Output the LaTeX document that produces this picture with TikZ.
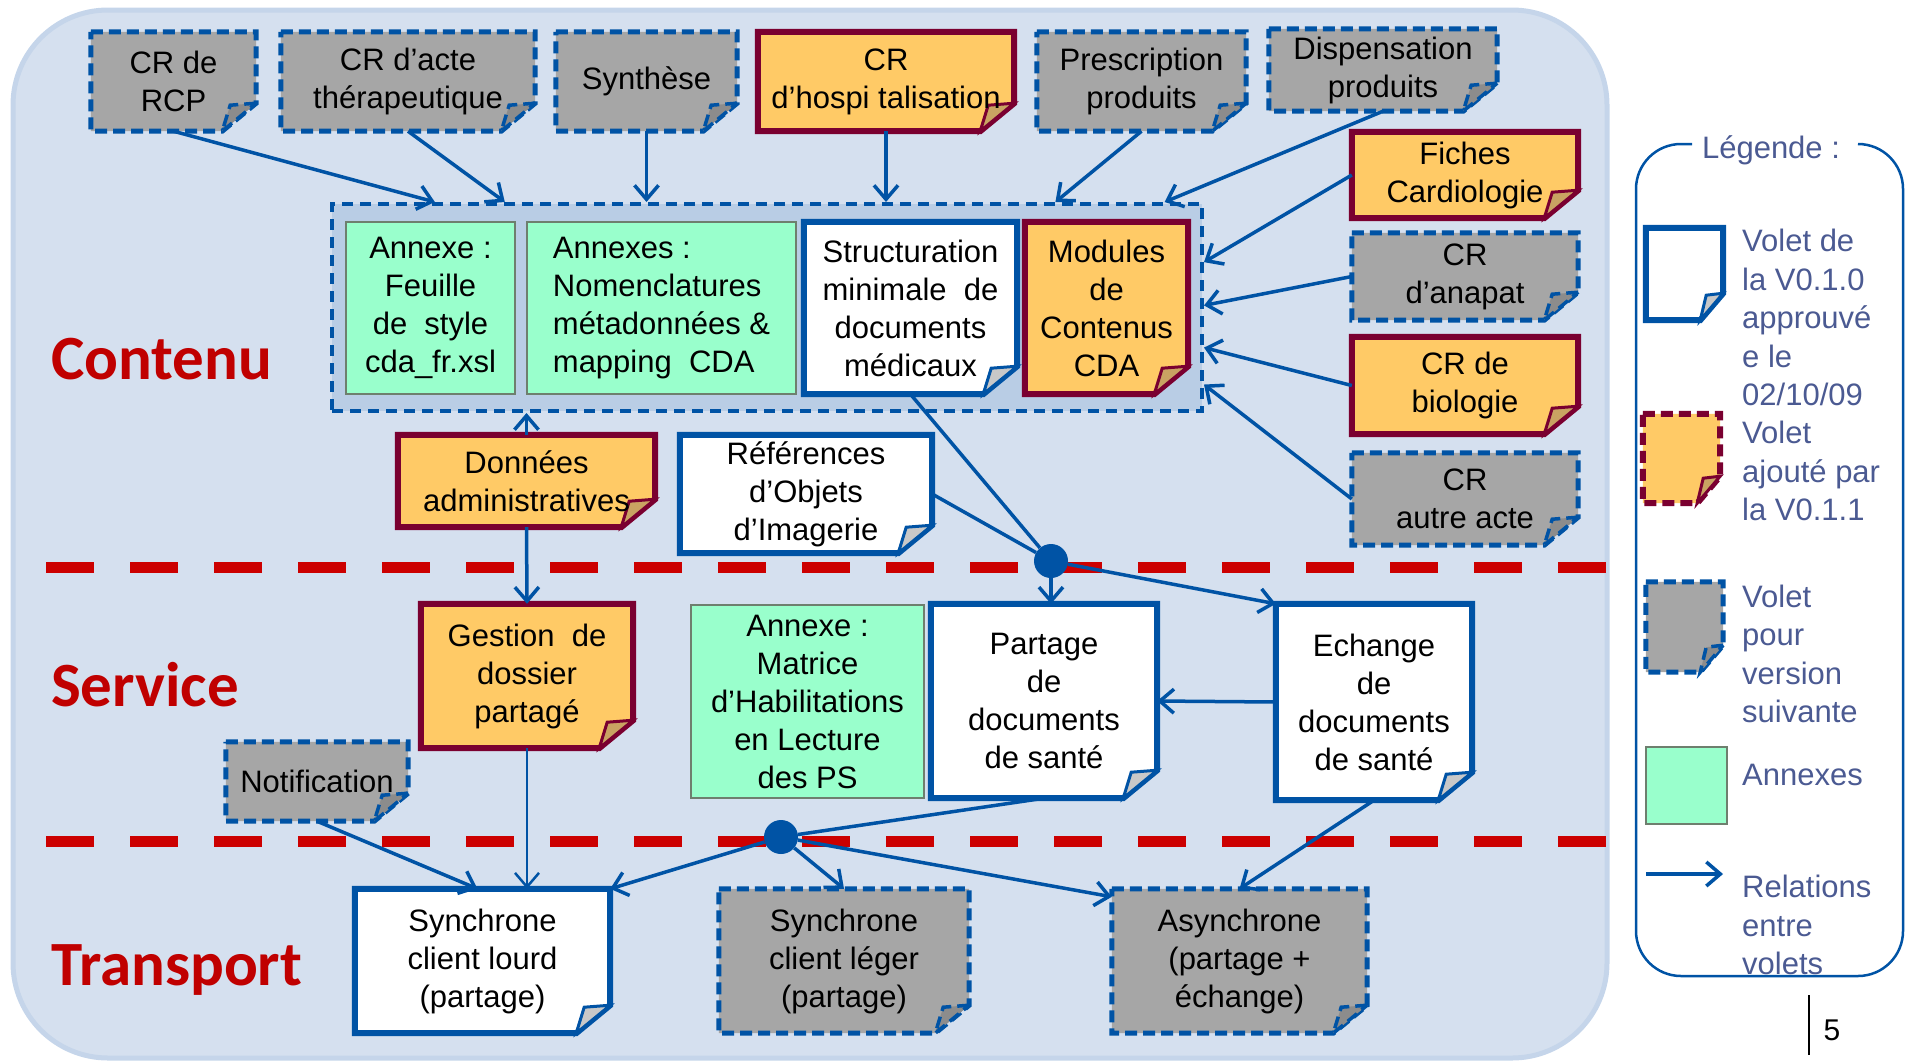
\documentclass[tikz,border=0pt]{standalone}
\usepackage{fontspec}
\setmainfont{Liberation Sans}
\newfontfamily\titrefont{Carlito}
\usetikzlibrary{arrows.meta, backgrounds, calc}

\definecolor{fondbleu}{HTML}{D5E0EF}
\definecolor{bordfond}{HTML}{C5D5EA}
\definecolor{grpbleu}{HTML}{B9CDE5}
\definecolor{bleuvolet}{HTML}{0053A5}
\definecolor{bordeaux}{HTML}{7A0030}
\definecolor{orangevolet}{HTML}{FFCA66}
\definecolor{grisvolet}{HTML}{A6A6A6}
\definecolor{vertannexe}{HTML}{99FFCC}
\definecolor{bordannexe}{HTML}{6E7F6E}
\definecolor{rougetrait}{HTML}{CC0000}
\definecolor{rougetitre}{HTML}{C00000}
\definecolor{texteleg}{HTML}{4B5A92}
\definecolor{pliblanc}{HTML}{C8C8C8}
\definecolor{pliorange}{HTML}{C9A362}
\definecolor{pligris}{HTML}{8C8C8C}

\begin{document}
\begin{tikzpicture}[x=1pt, y=-1pt,
    volet/.style={inner sep=0pt, align=center, font=\fontsize{31}{38}\selectfont},
    v010/.style={draw=bleuvolet, line width=6pt, fill=white},
    v011/.style={draw=bordeaux, line width=6pt, fill=orangevolet},
    vsuiv/.style={draw=bleuvolet, line width=5pt, dash pattern=on 12pt off 6pt, fill=grisvolet},
    annexe/.style={volet, draw=bordannexe, line width=2.5pt, fill=vertannexe},
    rel/.style={draw=bleuvolet, line width=3.5pt, -{Straight Barb[length=14pt,width=24pt]}},
    lien/.style={draw=bleuvolet, line width=3.5pt},
    point/.style={circle, fill=bleuvolet, inner sep=0pt, minimum size=34pt},
    coupure/.style={draw=rougetrait, line width=11pt, dash pattern=on 48pt off 36pt},
    titre/.style={anchor=base west, inner sep=0pt, text=rougetitre, font=\titrefont\bfseries\fontsize{63}{70}\selectfont},
    legende/.style={anchor=west, align=left, inner sep=0pt, text=texteleg, font=\fontsize{31}{38.5}\selectfont}]
            \useasboundingbox (0,0) rectangle (1905,1061);

            % volets du haut
            \node[volet, minimum width=165pt, minimum height=99pt] at (173.5,81.5) (rcp) {CR de\\RCP};
            \node[volet, minimum width=254pt, minimum height=99pt] at (408,81.5) (acte) {CR d’acte\\thérapeutique};
            \node[volet, minimum width=181pt, minimum height=99pt] at (646.5,81.5) (synth) {Synthèse};
            \node[volet, minimum width=256pt, minimum height=99pt] at (886,81.5) (hospi) {CR\\d’hospi talisation};
            \node[volet, minimum width=209pt, minimum height=99pt] at (1141.5,81.5) (presc) {Prescription\\produits};
            \node[volet, minimum width=228pt, minimum height=82pt] at (1383,70) (disp) {Dispensation\\produits};

            \node[volet, minimum width=226pt, minimum height=86pt] at (1465,175) (fiches) {Fiches\\Cardiologie};
            \node[volet, minimum width=226pt, minimum height=87pt] at (1465,276.5) (anapat) {CR\\d’anapat};
            \node[volet, minimum width=226pt, minimum height=97pt] at (1465,385.5) (bio) {CR de\\biologie};
            \node[volet, minimum width=226pt, minimum height=92pt] at (1465,499) (autre) {CR\\autre acte};

            % contenu
            \node[annexe, minimum width=169pt, minimum height=172pt] at (430.5,308) (feuille) {Annexe :\\Feuille\\de~~style\\cda\_fr.xsl};
            \node[annexe, align=left, minimum width=269pt, minimum height=172pt] at (661.5,308) (nomencl) {Annexes :\\Nomenclatures\\métadonnées \&\\mapping~~CDA};
            \node[volet, minimum width=213pt, minimum height=172pt] at (910.5,308) (struct) {Structuration\\minimale~~de\\documents\\médicaux};
            \node[volet, minimum width=163pt, minimum height=172pt] at (1106.5,308) (modules) {Modules\\de\\Contenus\\CDA};

            \node[volet, minimum width=257pt, minimum height=92pt] at (526.5,481) (donnees) {Données\\administratives};
            \node[volet, minimum width=252pt, minimum height=118pt] at (806,494) (refs) {Références\\d’Objets\\d’Imagerie};

            % service
            \node[volet, minimum width=212pt, minimum height=144pt] at (527,676) (gestion) {Gestion~~de\\dossier\\partagé};
            \node[annexe, minimum width=233pt, minimum height=193pt] at (807.5,701.5) (matrice) {Annexe :\\Matrice\\d’Habilitations\\en Lecture\\des PS};
            \node[volet, minimum width=226pt, minimum height=194pt] at (1044,701) (partage) {Partage\\de\\documents\\de santé};
            \node[volet, minimum width=196pt, minimum height=196pt] at (1374,702) (echange) {Echange\\de\\documents\\de santé};
            \node[volet, minimum width=182pt, minimum height=79pt] at (317,781.5) (notif) {Notification};

            % transport
            \node[volet, minimum width=255pt, minimum height=144pt] at (482.5,961) (lourd) {Synchrone\\client lourd\\(partage)};
            \node[volet, minimum width=250pt, minimum height=144pt] at (844,961) (leger) {Synchrone\\client léger\\(partage)};
            \node[volet, minimum width=255pt, minimum height=144pt] at (1239.5,961) (async) {Asynchrone\\(partage +\\échange)};

            \begin{pgfonlayer}{background}
            \draw[draw=bordfond, fill=fondbleu, line width=5pt, rounded corners=95pt] (13,10) rectangle (1607,1058);
            \node[draw=bleuvolet, line width=4pt, dash pattern=on 11pt off 7pt, fill=grpbleu, inner sep=0pt, minimum width=870pt, minimum height=207pt] at (767,307.5) (grp) {};

            \foreach \n in {struct, refs, partage, echange, lourd}{
                \draw[v010] (\n.north west) -- (\n.north east) -- ([yshift=28pt]\n.south east) -- ([xshift=-34pt]\n.south east) -- (\n.south west) -- cycle;
                \draw[v010, line width=3pt, fill=pliblanc] ([yshift=28pt]\n.south east) -- ([xshift=-26pt,yshift=26pt]\n.south east) -- ([xshift=-34pt]\n.south east) -- cycle;
            }
            \foreach \n in {hospi, fiches, bio, modules, donnees, gestion}{
                \draw[v011] (\n.north west) -- (\n.north east) -- ([yshift=28pt]\n.south east) -- ([xshift=-34pt]\n.south east) -- (\n.south west) -- cycle;
                \draw[v011, line width=3pt, fill=pliorange] ([yshift=28pt]\n.south east) -- ([xshift=-26pt,yshift=26pt]\n.south east) -- ([xshift=-34pt]\n.south east) -- cycle;
            }
            \foreach \n in {rcp, acte, synth, presc, disp, anapat, autre, notif, leger, async}{
                \draw[vsuiv] (\n.north west) -- (\n.north east) -- ([yshift=28pt]\n.south east) -- ([xshift=-34pt]\n.south east) -- (\n.south west) -- cycle;
                \draw[vsuiv, line width=3.5pt, fill=pligris] ([yshift=28pt]\n.south east) -- ([xshift=-26pt,yshift=26pt]\n.south east) -- ([xshift=-34pt]\n.south east) -- cycle;
            }
            \end{pgfonlayer}

            \node[titre] at (51,379) (contenu) {Contenu};
            \node[titre] at (51,706) (service) {Service};
            \node[titre] at (51,985) (transport) {Transport};

            \draw[coupure] (46,567) -- (1606,567);
            \draw[coupure] (46,841) -- (1606,841);

            \node[point] at (1051,561) (n1) {};
            \node[point] at (781,837) (n2) {};

            % relations
            \draw[rel] (rcp.south) -- ($(grp.north west)!.12!(grp.north east)$);
            \draw[rel] (acte.south) -- ($(grp.north west)!.20!(grp.north east)$);
            \draw[rel] (synth.south) -- (synth.south |- grp.north);
            \draw[rel] (hospi.south) -- (hospi.south |- grp.north);
            \draw[rel] (presc.south) -- ($(grp.north west)!.83!(grp.north east)$);
            \draw[rel] (disp.south) -- ($(grp.north west)!.955!(grp.north east)$);
            \draw[rel] (fiches.west) -- ($(grp.north east)!.285!(grp.south east)$);
            \draw[rel] (anapat.west) -- ($(grp.north east)!.49!(grp.south east)$);
            \draw[rel] (bio.west) -- ($(grp.north east)!.69!(grp.south east)$);
            \draw[rel] (autre.west) -- ($(grp.north east)!.865!(grp.south east)$);
            \draw[rel] (donnees.north) -- (grp.south -| donnees.north);
            \draw[rel] (donnees.south) -- (gestion.north);

            \draw[lien] (struct.south) -- (n1);
            \draw[lien] (refs.east) -- (n1);
            \draw[rel] (n1) -- (n1 |- partage.north);
            \draw[rel] (n1) -- (echange.north west);
            \draw[rel] (echange.west) -- (partage.east);
            \draw[lien] (partage.south) -- (n2);
            \draw[rel] (n2) -- (lourd.north east);
            \draw[rel] (n2) -- (leger.north);
            \draw[rel] (n2) -- ([yshift=-8pt]async.north west);
            \draw[rel] (echange.south) -- (async.north);
            \draw[rel] (notif.south) -- ([xshift=-5pt]lourd.north);
            \draw[rel, line width=2.5pt] (gestion.south) -- (gestion.south |- lourd.north);

            % legende
            \draw[draw=bleuvolet, line width=2.5pt, rounded corners=45pt] (1692,144) -- (1636,144) -- (1636,976) -- (1903,976) -- (1903,144) -- (1863,144);
            \node[legende, anchor=center] at (1771,150) (titreleg) {Légende :};

            \node[inner sep=0pt, minimum width=77pt, minimum height=92pt] at (1684.5,274) (leg010) {};
            \draw[v010] (leg010.north west) -- (leg010.north east) -- ([yshift=27pt]leg010.south east) -- ([xshift=-23pt]leg010.south east) -- (leg010.south west) -- cycle;
            \draw[v010, line width=3pt, fill=pliblanc] ([yshift=27pt]leg010.south east) -- ([xshift=-17pt,yshift=25pt]leg010.south east) -- ([xshift=-23pt]leg010.south east) -- cycle;

            \node[inner sep=0pt, minimum width=77pt, minimum height=89pt] at (1681.5,458.5) (leg011) {};
            \draw[v011, dash pattern=on 12pt off 6pt] (leg011.north west) -- (leg011.north east) -- ([yshift=27pt]leg011.south east) -- ([xshift=-23pt]leg011.south east) -- (leg011.south west) -- cycle;
            \draw[v011, line width=3pt, fill=pliorange] ([yshift=27pt]leg011.south east) -- ([xshift=-17pt,yshift=25pt]leg011.south east) -- ([xshift=-23pt]leg011.south east) -- cycle;

            \node[inner sep=0pt, minimum width=77pt, minimum height=90pt] at (1684.5,627) (legsuiv) {};
            \draw[vsuiv] (legsuiv.north west) -- (legsuiv.north east) -- ([yshift=27pt]legsuiv.south east) -- ([xshift=-23pt]legsuiv.south east) -- (legsuiv.south west) -- cycle;
            \draw[vsuiv, line width=3.5pt, fill=pligris] ([yshift=27pt]legsuiv.south east) -- ([xshift=-17pt,yshift=25pt]legsuiv.south east) -- ([xshift=-23pt]legsuiv.south east) -- cycle;

            \node[annexe, minimum width=81pt, minimum height=77pt] at (1686.5,785.5) (legannexe) {};
            \coordinate (rela) at (1646,874);
            \coordinate (relb) at (1723,874);
            \draw[rel] (rela) -- (relb);

            \node[legende] at (1742,317.5) (t010) {Volet de\\la V0.1.0\\approuvé\\e le\\02/10/09};
            \node[legende] at (1742,471) (t011) {Volet\\ajouté par\\la V0.1.1};
            \node[legende] at (1742,654) (tsuiv) {Volet\\pour\\version\\suivante};
            \node[legende] at (1742,775) (tannexe) {Annexes};
            \node[legende] at (1742,925) (trel) {Relations\\entre\\volets};

            \draw[line width=2.5pt] (1809,995) -- (1809,1055);
            \node[inner sep=0pt, font=\fontsize{30}{36}\selectfont] at (1832,1030) (page) {5};
        \end{tikzpicture}
\end{document}
